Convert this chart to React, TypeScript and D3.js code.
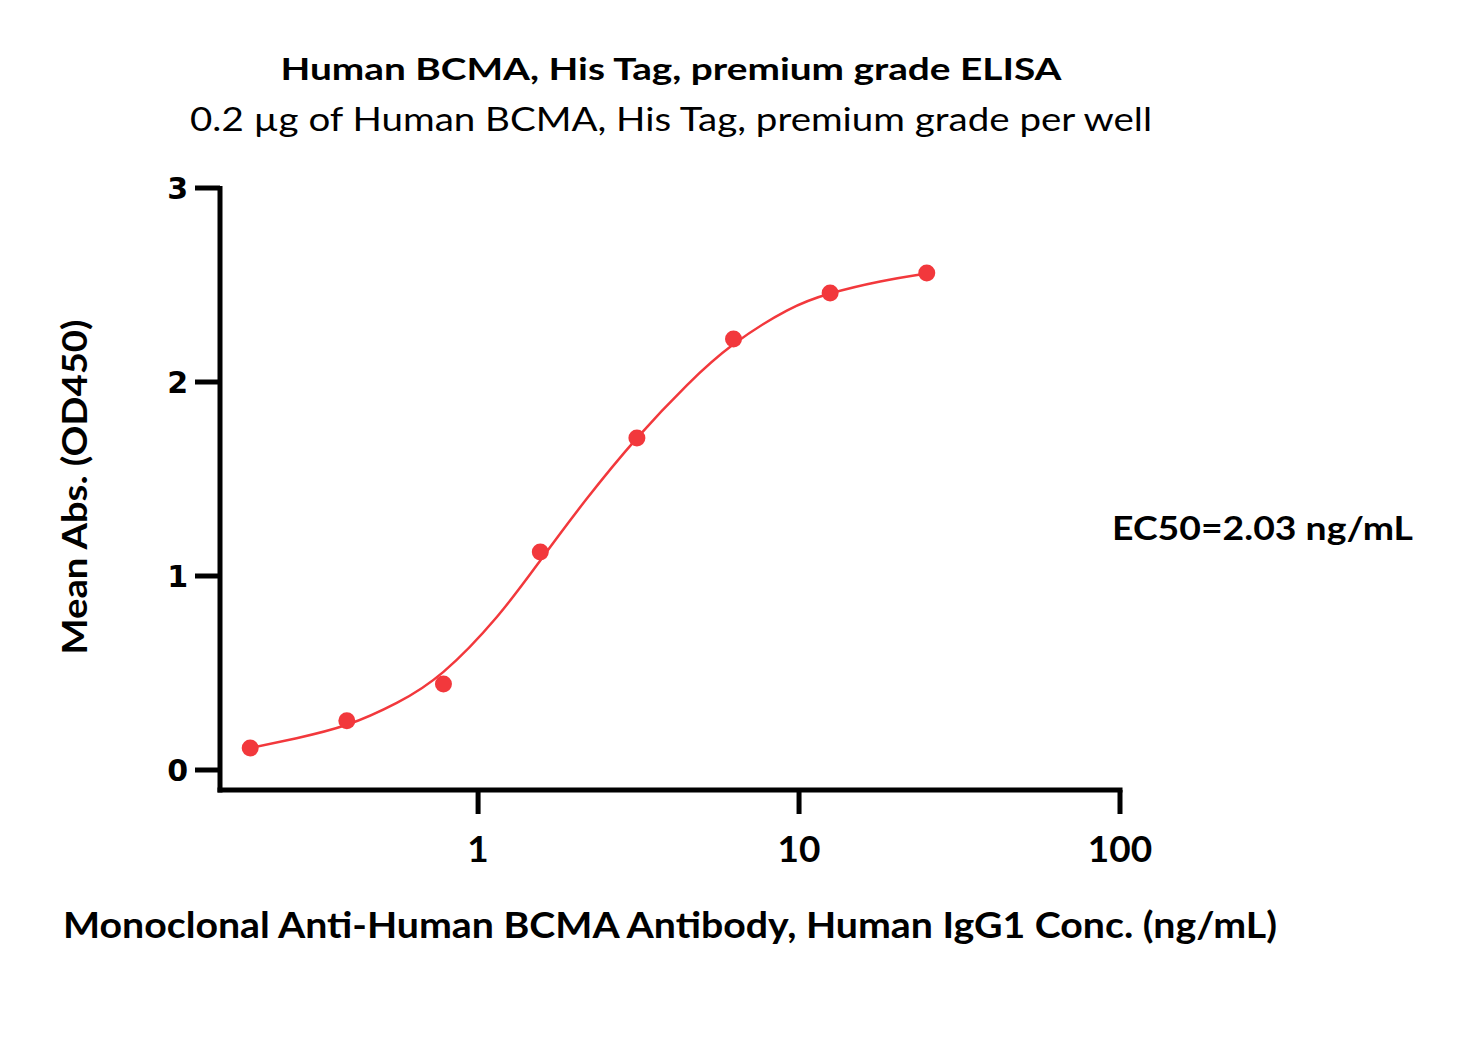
import React from "react";
import * as d3 from "d3";

const concentrations = [0.195, 0.39, 0.78, 1.5625, 3.125, 6.25, 12.5, 25];
const meanAbs = [0.113, 0.254, 0.443, 1.124, 1.711, 2.222, 2.459, 2.562];
const fitConc = [0.195, 0.272, 0.39, 0.558, 0.78, 1.144, 1.5625, 2.18, 3.125, 4.47, 6.25, 9.16, 12.5, 17.9, 25];
const fitValue = [0.113, 0.164, 0.233, 0.346, 0.506, 0.789, 1.08, 1.398, 1.711, 1.983, 2.194, 2.368, 2.456, 2.518, 2.559];
const xTicks = [1, 10, 100];
const yTicks = [0, 1, 2, 3];

const titleText = "Human BCMA, His Tag, premium grade ELISA";
const subtitleText = "0.2 µg of Human BCMA, His Tag, premium grade per well";
const xLabel = "Monoclonal Anti-Human BCMA Antibody, Human IgG1 Conc. (ng/mL)";
const yLabel = "Mean Abs. (OD450)";
const ec50Text = "EC50=2.03 ng/mL";

const RED = "#F2383C";
const FONT = "Lato, 'Open Sans', sans-serif";

export default function App() {
  const x = d3.scaleLog().domain([0.157, 100]).range([220, 1120]);
  const y = d3.scaleLinear().domain([0, 3]).range([770, 188]);
  const axisY = 790;

  const pts = fitConc.map((c, i) => [c, fitValue[i]] as [number, number]);
  const line = d3
    .line<[number, number]>()
    .x((d) => x(d[0]))
    .y((d) => y(d[1]))
    .curve(d3.curveNatural);

  return (
    <svg width={1457} height={1044} style={{ display: "block", position: "absolute", left: 0, top: 0 }}>
      <rect width={1457} height={1044} fill="#fff" />
      <text x={671} y={80} textAnchor="middle" fontFamily={FONT} fontWeight="bold" fontSize={31} textLength={781} lengthAdjust="spacingAndGlyphs">{titleText}</text>
      <text x={671} y={131} textAnchor="middle" fontFamily={FONT} fontSize={32} textLength={962} lengthAdjust="spacingAndGlyphs">{subtitleText}</text>

      {/* axes */}
      <line x1={220} x2={220} y1={y(3) - 2} y2={axisY + 2.5} stroke="#000" strokeWidth={5} />
      <line x1={217.5} x2={1122.5} y1={axisY} y2={axisY} stroke="#000" strokeWidth={5} />
      {yTicks.map((t) => (
        <g key={"y" + t}>
          <line x1={195} x2={220} y1={y(t)} y2={y(t)} stroke="#000" strokeWidth={5} />
          <text x={188} y={y(t) + 11} textAnchor="end" fontFamily="'DejaVu Sans', Verdana, sans-serif" fontWeight="bold" fontSize={30}>{t}</text>
        </g>
      ))}
      {xTicks.map((t) => (
        <g key={"x" + t}>
          <line x1={x(t)} x2={x(t)} y1={axisY} y2={814} stroke="#000" strokeWidth={5} />
          <text x={x(t)} y={862} textAnchor="middle" fontFamily={FONT} fontWeight="bold" fontSize={37}>{t}</text>
        </g>
      ))}

      <path d={line(pts) || ""} fill="none" stroke={RED} strokeWidth={2.5} />
      {concentrations.map((c, i) => (
        <circle key={i} cx={x(c)} cy={y(meanAbs[i])} r={8.5} fill={RED} />
      ))}

      <text x={1112} y={540} fontFamily={FONT} fontWeight="bold" fontSize={33} textLength={301} lengthAdjust="spacingAndGlyphs">{ec50Text}</text>
      <text x={670} y={938} textAnchor="middle" fontFamily={FONT} fontWeight="bold" fontSize={36} textLength={1214} lengthAdjust="spacingAndGlyphs">{xLabel}</text>
      <text transform="translate(87,487) rotate(-90)" textAnchor="middle" fontFamily={FONT} fontWeight="bold" fontSize={35} textLength={335} lengthAdjust="spacingAndGlyphs">{yLabel}</text>
    </svg>
  );
}
